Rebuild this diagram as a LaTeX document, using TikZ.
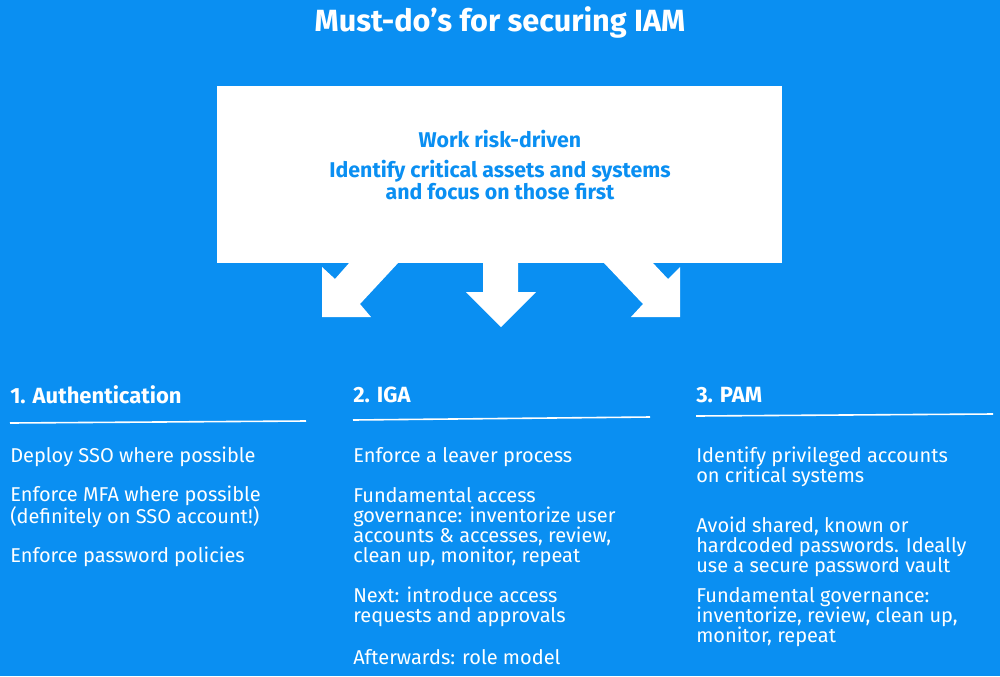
\documentclass[tikz,border=0pt]{standalone}
\usepackage{fontspec}
\setmainfont{Fira Sans}
\definecolor{bg}{HTML}{0A8FF2}
\begin{document}
\begin{tikzpicture}[x=0.75pt,y=-0.75pt,
  body/.style={anchor=west,inner sep=0pt,align=left,text=white,font=\fontsize{15}{15}\selectfont},
  head/.style={anchor=west,inner sep=0pt,text=white,font=\fontsize{16.5}{18}\selectfont\bfseries},
  rule/.style={white,line width=1.2pt}]
\fill[bg] (0,0) rectangle (1000,676);
\useasboundingbox (0,0) rectangle (1000,676);
\node[text=white,font=\fontsize{23}{26}\selectfont\bfseries] (title) at (500,22) {Must-do's for securing IAM};
\fill[white] (217,86) rectangle (782,263);
\node[text=bg,font=\fontsize{16}{16.5}\selectfont\bfseries,align=center] (box) at (500,165)
  {Work risk-driven\\[6pt]Identify critical assets and systems\\and focus on those first};
\fill[white] (483,262) -- (518,262) -- (518,292) -- (536,292) -- (501,327) -- (466,292) -- (483,292) -- cycle;
\fill[white] (350,262) -- (399,262) -- (360,304) -- (371,317) -- (322,317) -- (322,267) -- (335,279) -- cycle;
\fill[white] (603,262) -- (652,262) -- (668,279) -- (680,267) -- (680,317) -- (631,317) -- (643,304) -- cycle;
\node[head] (h1) at (10,395) {1. Authentication};
\node[head] (h2) at (353,395) {2. IGA};
\node[head] (h3) at (696,395) {3. PAM};
\draw[rule] (10,423) -- (306,421);
\draw[rule] (353,420) -- (650,417);
\draw[rule] (696,416) -- (993,414);
\node[body] (a1) at (10,457) {Deploy SSO where possible};
\node[body] (a2) at (10,507) {Enforce MFA where possible\\(definitely on SSO account!)};
\node[body] (a3) at (10,557) {Enforce password policies};
\node[body] (b1) at (353,457) {Enforce a leaver process};
\node[body] (b2) at (353,527) {Fundamental access\\governance: inventorize user\\accounts \& accesses, review,\\clean up, monitor, repeat};
\node[body] (b3) at (353,607) {Next: introduce access\\requests and approvals};
\node[body] (b4) at (353,657) {Afterwards: role model};
\node[body] (c1) at (696,467) {Identify privileged accounts\\on critical systems};
\node[body] (c2) at (696,547) {Avoid shared, known or\\hardcoded passwords. Ideally\\use a secure password vault};
\node[body] (c3) at (696,617) {Fundamental governance:\\inventorize, review, clean up,\\monitor, repeat};
\end{tikzpicture}
\end{document}
